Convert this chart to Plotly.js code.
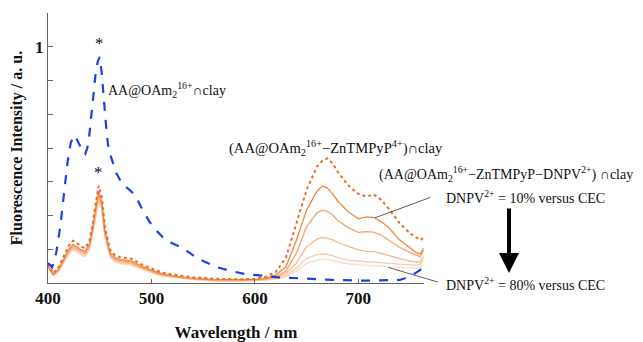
<!DOCTYPE html>
<html>
<head>
<meta charset="utf-8">
<script src="https://cdn.plot.ly/plotly-3.0.1.min.js"></script>
<style>html,body{margin:0;padding:0;background:#fff;}#chart{width:643px;height:342px;}</style>
</head>
<body>
<div id="chart"></div>
<script>
// Blue dashed: AA@OAm2(16+)∩clay
const blueWl = [400,404,408,412,416,419,422,425,428,431,434,436,438,440,442,444,446,448,450,452,454,456,458,461,466,472,478,482,486,490,498,505,512,520,530,545,563,576,590,608,625,643,675,708,740,750,756,760,763];
const blueVal = [0.359,0.347,0.39,0.47,0.58,0.66,0.715,0.738,0.725,0.705,0.688,0.682,0.70,0.74,0.80,0.86,0.92,0.955,0.97,0.92,0.84,0.77,0.71,0.673,0.626,0.592,0.578,0.567,0.55,0.525,0.482,0.455,0.432,0.418,0.404,0.372,0.347,0.336,0.327,0.321,0.316,0.314,0.309,0.307,0.309,0.319,0.330,0.339,0.353];

// Orange series common wavelength grid
const orangeWl = [400,405,410,415,420,424,428,432,436,440,443,446,449,452,455,460,465,470,480,486,490,500,510,520,540,560,580,600,610,620,630,640,650,660,665,670,675,680,690,700,708,715,722,730,740,750,756,760,763];
// (AA@OAm2-ZnTMPyP)∩clay, dotted
const znVal = [0.358,0.329,0.345,0.378,0.410,0.425,0.418,0.408,0.403,0.425,0.47,0.535,0.588,0.555,0.467,0.398,0.382,0.376,0.373,0.363,0.356,0.343,0.331,0.325,0.317,0.313,0.311,0.312,0.318,0.332,0.375,0.475,0.576,0.645,0.662,0.669,0.655,0.630,0.590,0.564,0.556,0.562,0.547,0.518,0.477,0.447,0.435,0.427,0.435];
// DNPV series
const dnpv10 = [0.352,0.326,0.340,0.37,0.40,0.414,0.408,0.398,0.394,0.415,0.46,0.52,0.572,0.54,0.455,0.39,0.375,0.369,0.366,0.357,0.35,0.338,0.327,0.321,0.314,0.31,0.309,0.31,0.314,0.323,0.348,0.425,0.516,0.572,0.587,0.582,0.565,0.543,0.512,0.49,0.496,0.494,0.482,0.462,0.427,0.403,0.39,0.386,0.403];
const dnpv20 = [0.35,0.325,0.338,0.367,0.396,0.409,0.403,0.394,0.39,0.41,0.455,0.512,0.565,0.533,0.45,0.386,0.371,0.366,0.362,0.354,0.347,0.336,0.325,0.32,0.313,0.309,0.308,0.309,0.312,0.318,0.335,0.388,0.467,0.508,0.516,0.512,0.502,0.485,0.465,0.45,0.452,0.451,0.442,0.425,0.405,0.39,0.382,0.378,0.398];
const dnpv40 = [0.348,0.324,0.336,0.364,0.392,0.405,0.399,0.39,0.386,0.405,0.45,0.505,0.558,0.527,0.445,0.382,0.368,0.363,0.359,0.351,0.345,0.334,0.324,0.319,0.312,0.308,0.307,0.308,0.31,0.315,0.328,0.358,0.408,0.43,0.435,0.433,0.428,0.42,0.408,0.398,0.394,0.393,0.388,0.38,0.372,0.365,0.362,0.363,0.378];
const dnpv60 = [0.346,0.323,0.334,0.361,0.388,0.401,0.395,0.386,0.382,0.4,0.445,0.498,0.552,0.52,0.44,0.379,0.365,0.36,0.356,0.348,0.343,0.332,0.322,0.318,0.311,0.307,0.306,0.307,0.309,0.313,0.322,0.344,0.373,0.384,0.386,0.385,0.381,0.375,0.368,0.364,0.363,0.362,0.36,0.358,0.356,0.354,0.353,0.356,0.368];
const dnpv80 = [0.344,0.322,0.332,0.358,0.384,0.397,0.391,0.382,0.378,0.396,0.44,0.492,0.545,0.514,0.435,0.376,0.362,0.357,0.353,0.346,0.341,0.33,0.32,0.317,0.31,0.306,0.305,0.306,0.308,0.311,0.318,0.336,0.358,0.367,0.37,0.369,0.366,0.362,0.357,0.354,0.353,0.352,0.35,0.348,0.347,0.345,0.344,0.347,0.353];

const xTicks = [400,500,600,700];
const yTicks = [0.3,0.4,0.5,0.6,0.7,0.8,0.9,1.0];
const yTickText = ['','','','','','','','1'];

const solidSeries = [dnpv80, dnpv60, dnpv40, dnpv20, dnpv10];
const solidColors = ['#FADCC8','#F9CBB0','#F7B58C','#F5A46E','#F0883C'];

const traces = [];
solidSeries.forEach((s,i)=>{
  traces.push({x: orangeWl, y: s, mode:'lines', line:{color: solidColors[i], width: 1.3}, hoverinfo:'skip'});
});
traces.push({x: orangeWl, y: znVal, mode:'lines', line:{color:'#EC6A2C', width:2, dash:'dot'}, hoverinfo:'skip'});
traces.push({x: blueWl, y: blueVal, mode:'lines', line:{color:'#1F3FE6', width:2.2, dash:'dash'}, hoverinfo:'skip'});

const serif = 'Liberation Serif, Times New Roman, serif';
const txt = (o)=>Object.assign({showarrow:false, font:{family:serif, size:14, color:'#111'}}, o);

const layout = {
  width:643, height:342,
  margin:{l:48, r:219, t:13, b:59},
  paper_bgcolor:'#fff', plot_bgcolor:'#fff',
  showlegend:false,
  font:{family:serif, color:'#111'},
  xaxis:{
    range:[400,763.5], tickvals:xTicks, ticks:'inside', ticklen:4, tickcolor:'#666',
    showline:true, linecolor:'#666', linewidth:1, showgrid:false, zeroline:false,
    tickfont:{family:serif, size:17, weight:'bold', color:'#111'},
    title:{text:'Wavelength / nm', font:{family:serif, size:17, weight:'bold', color:'#111'}, standoff:18},
    automargin:false
  },
  yaxis:{
    range:[0.3,1.1], tickvals:yTicks, ticktext:yTickText, ticks:'inside', ticklen:5, tickcolor:'#666',
    showline:true, linecolor:'#666', linewidth:1, showgrid:false, zeroline:false,
    tickfont:{family:serif, size:17, weight:'bold', color:'#111'},
    title:{text:'Fluorescence Intensity / a. u.', font:{family:serif, size:16, weight:'bold', color:'#111'}, standoff:8},
    automargin:false
  },
  annotations:[
    txt({x:450, y:0.97, xref:'x', yref:'y', yanchor:'bottom', yshift:2, text:'*', font:{family:serif, size:17, color:'#111'}}),
    txt({x:449, y:0.588, xref:'x', yref:'y', yanchor:'bottom', yshift:2, text:'*', font:{family:serif, size:17, color:'#111'}}),
    txt({x:(106-48)/376, y:(283-90)/270, xref:'paper', yref:'paper', xanchor:'left', yanchor:'middle', text:'AA@OAm<sub>2</sub><sup>16+</sup>∩clay'}),
    txt({x:(227-48)/376, y:(283-148)/270, xref:'paper', yref:'paper', xanchor:'left', yanchor:'middle', text:'(AA@OAm<sub>2</sub><sup>16+</sup>−ZnTMPyP<sup>4+</sup>)∩clay', font:{family:serif, size:14.6, color:'#111'}}),
    txt({x:(377-48)/376, y:(283-174)/270, xref:'paper', yref:'paper', xanchor:'left', yanchor:'middle', text:'(AA@OAm<sub>2</sub><sup>16+</sup>−ZnTMPyP−DNPV<sup>2+</sup>) ∩clay'}),
    txt({x:(444-48)/376, y:(283-197)/270, xref:'paper', yref:'paper', xanchor:'left', yanchor:'middle', text:'DNPV<sup>2+</sup> = 10% versus CEC'}),
    txt({x:(444-48)/376, y:(283-284)/270, xref:'paper', yref:'paper', xanchor:'left', yanchor:'middle', text:'DNPV<sup>2+</sup> = 80% versus CEC'}),
    {x:716, y:0.493, xref:'x', yref:'y', ax:57, ay:-21, text:'', showarrow:true, arrowhead:0, arrowwidth:0.8, arrowcolor:'#333'},
    {x:729, y:0.346, xref:'x', yref:'y', ax:51, ay:15, text:'', showarrow:true, arrowhead:0, arrowwidth:0.8, arrowcolor:'#333'},
    {x:(509-48)/376, y:(283-273)/270, xref:'paper', yref:'paper', ax:0, ay:-66, text:'', showarrow:true, arrowhead:2, arrowsize:1, arrowwidth:4, arrowcolor:'#000'}
  ]
};

Plotly.newPlot('chart', traces, layout, {staticPlot:true, displayModeBar:false});
</script>
</body>
</html>
